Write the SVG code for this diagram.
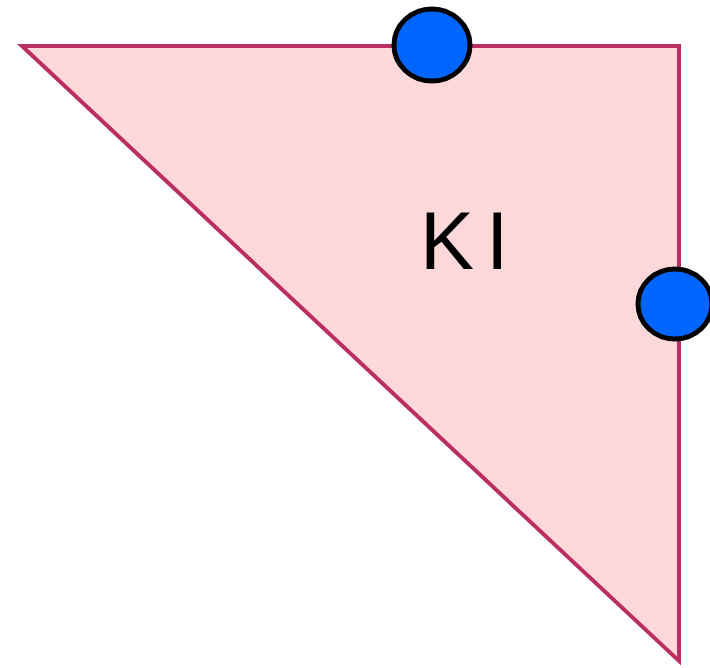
<svg xmlns="http://www.w3.org/2000/svg" width="710" height="668" viewBox="0 0 710 668">
<style>
.tri{fill:#ffd9d9;stroke:#bb2e60;stroke-width:4;stroke-linejoin:miter}
.dot{fill:#0066ff;stroke:#000;stroke-width:5}
.lbl{font-family:"Liberation Sans",Arial,sans-serif;font-size:81px;fill:#000;letter-spacing:12px}
</style>
<g id="region">
<polygon class="tri" points="22,46 679,46 679,661"/>
<text class="lbl" x="420" y="269">KI</text>
</g>
<g id="node-top"><ellipse class="dot" cx="432" cy="45" rx="38" ry="36"/></g>
<g id="node-right"><ellipse class="dot" cx="675" cy="304" rx="37" ry="35"/></g>
<g id="connectors"></g>
</svg>
